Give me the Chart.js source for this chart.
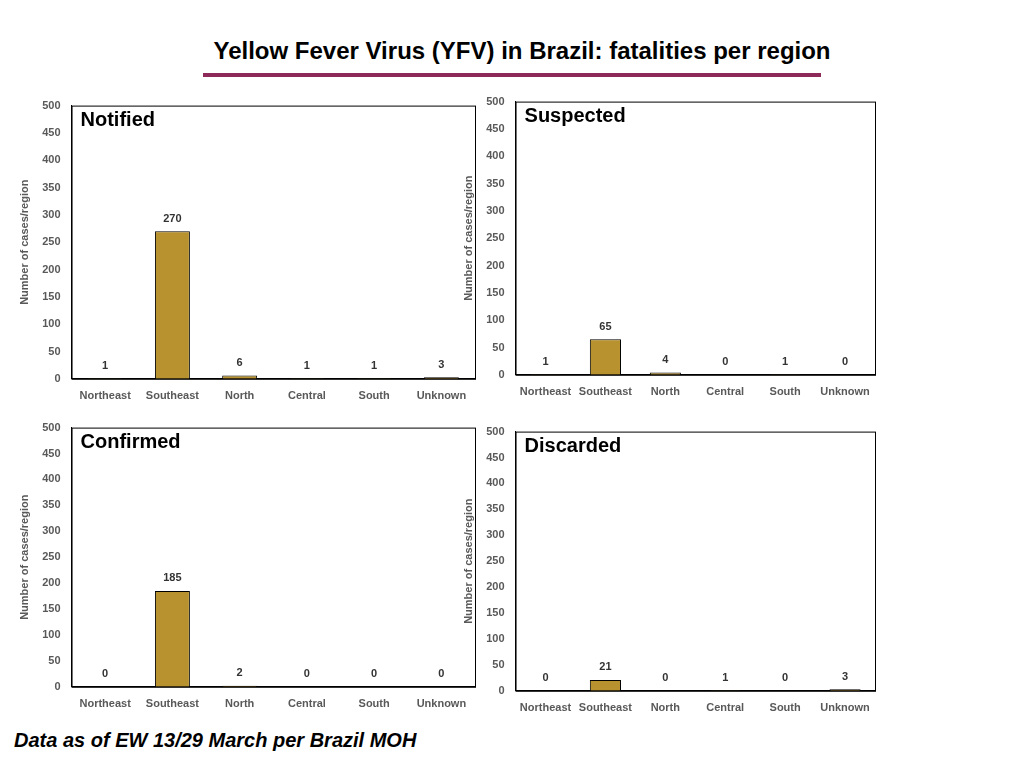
<!DOCTYPE html>
<html><head><meta charset="utf-8">
<script src="https://cdn.jsdelivr.net/npm/chart.js@4/dist/chart.umd.min.js"></script>
<style>
body{margin:0;width:1024px;height:768px;background:#fff;font-family:"Liberation Sans",Arial,sans-serif;position:relative;overflow:hidden}
#title{position:absolute;left:0;width:1044px;top:37px;text-align:center;font-size:24px;font-weight:bold;color:#000}
#rule{position:absolute;left:203px;top:73px;width:618px;height:4px;background:#8e2a5a}
#foot{position:absolute;left:14px;top:729px;font-size:20px;font-weight:bold;font-style:italic}
.box{position:absolute}
</style></head><body>
<div id="title">Yellow Fever Virus (YFV) in Brazil: fatalities per region</div>
<div id="rule"></div>
<div class="box" style="left:18px;top:96px;width:459px;height:310px"><canvas id="c1"></canvas></div>
<div class="box" style="left:462px;top:92px;width:415px;height:310px"><canvas id="c2"></canvas></div>
<div class="box" style="left:18px;top:418px;width:459px;height:296px"><canvas id="c3"></canvas></div>
<div class="box" style="left:462px;top:422px;width:415px;height:296px"><canvas id="c4"></canvas></div>
<div id="foot">Data as of EW 13/29 March per Brazil MOH</div>
<script>
var regions = ["Northeast","Southeast","North","Central","South","Unknown"];
var notified = [1,270,6,1,1,3];
var suspected = [1,65,4,0,1,0];
var confirmed = [0,185,2,0,0,0];
var discarded = [0,21,0,1,0,3];

var boxPlugin = {
  id: 'boxPlugin',
  afterDraw: function(chart) {
    var a = chart.chartArea, ctx = chart.ctx;
    ctx.save();
    ctx.strokeStyle = '#000'; ctx.lineWidth = 1;
    ctx.strokeRect(a.left + 0.5, a.top + 0.5, a.right - a.left, a.bottom - a.top);
    ctx.fillStyle = '#000';
    ctx.font = 'bold 20px "Liberation Sans", Arial';
    ctx.textBaseline = 'top';
    ctx.fillText(chart.options.plugins.panelName, a.left + 9, a.top + 5);
    ctx.font = 'bold 11px "Liberation Sans", Arial';
    ctx.fillStyle = '#333';
    ctx.textAlign = 'center'; ctx.textBaseline = 'bottom';
    var meta = chart.getDatasetMeta(0);
    meta.data.forEach(function(bar, i) {
      ctx.fillText(chart.data.datasets[0].data[i], bar.x, bar.y - 7);
    });
    ctx.restore();
  }
};

function makeChart(id, name, values) {
  new Chart(document.getElementById(id), {
    type: 'bar',
    data: { labels: regions, datasets: [{ data: values, backgroundColor: '#b8922e', borderColor: '#000', borderWidth: 1, barPercentage: 0.52, categoryPercentage: 1 }] },
    plugins: [boxPlugin],
    options: {
      responsive: true, maintainAspectRatio: false, animation: false,
      layout: { padding: { top: 5, right: 2 } },
      plugins: { legend: { display: false }, tooltip: { enabled: false }, panelName: name },
      scales: {
        x: { grid: { display: false }, border: { color: '#000' },
             ticks: { color: '#595959', font: { size: 11, weight: 'bold' }, autoSkip: false, maxRotation: 0 } },
        y: { min: 0, max: 500, grid: { display: false }, border: { color: '#000' },
             ticks: { stepSize: 50, color: '#595959', font: { size: 11, weight: 'bold' } },
             title: { display: true, text: 'Number of cases/region', color: '#595959', padding: { top: 0, bottom: 8 }, font: { size: 11, weight: 'bold' } } }
      }
    }
  });
}
makeChart('c1', 'Notified', notified);
makeChart('c2', 'Suspected', suspected);
makeChart('c3', 'Confirmed', confirmed);
makeChart('c4', 'Discarded', discarded);
</script></body></html>
